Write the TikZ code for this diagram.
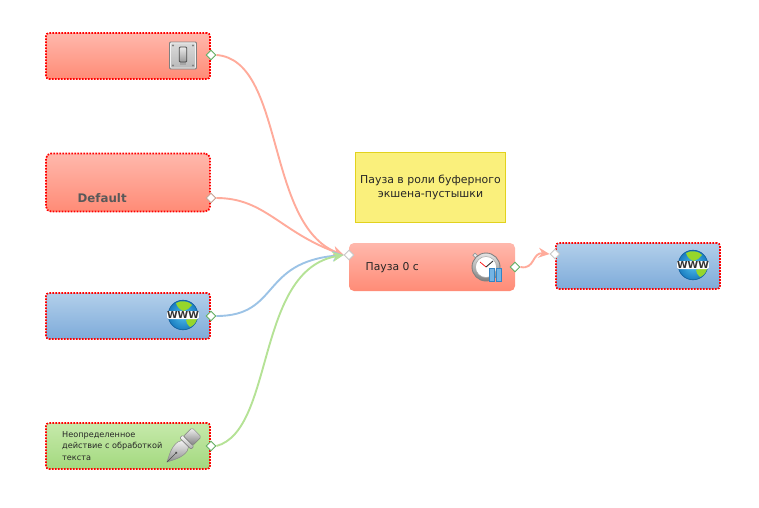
\documentclass[tikz,border=0pt]{standalone}
\usepackage{fontspec}
\setmainfont{DejaVu Sans}
\usetikzlibrary{arrows.meta,shapes.geometric}

\definecolor{redtop}{HTML}{FFB8AC}
\definecolor{redbot}{HTML}{FF8B76}
\definecolor{bluetop}{HTML}{B2CFEA}
\definecolor{bluebot}{HTML}{7EABDA}
\definecolor{greentop}{HTML}{C6E9AB}
\definecolor{greenbot}{HTML}{A3D97E}
\definecolor{redwire}{HTML}{FFAB9B}
\definecolor{bluewire}{HTML}{9CC3E6}
\definecolor{greenwire}{HTML}{B5E296}
\definecolor{notefill}{HTML}{FAF07C}
\definecolor{noteline}{HTML}{E2D21E}
\definecolor{portgreen}{HTML}{62AE62}
\definecolor{portbrown}{HTML}{C8A090}
\definecolor{seablue}{HTML}{1A7CC0}
\definecolor{seadeep}{HTML}{14609E}
\definecolor{seapale}{HTML}{50C0EC}
\definecolor{landgreen}{HTML}{96D62C}
\definecolor{barfill}{HTML}{74B4E4}
\definecolor{barline}{HTML}{3484C4}

\tikzset{
	actionbox/.style={rectangle, inner sep=0pt, rounded corners=3pt, minimum width=164pt, minimum height=46pt},
	dotborder/.style={draw=red, line width=1.7pt, dash pattern=on 1.7pt off 1.3pt},
	redbox/.style={actionbox, top color=redtop, bottom color=redbot},
	bluebox/.style={actionbox, top color=bluetop, bottom color=bluebot},
	greenbox/.style={actionbox, top color=greentop, bottom color=greenbot},
	notebox/.style={rectangle, fill=notefill, draw=noteline, line width=1pt, minimum width=150pt, minimum height=70pt, inner sep=0pt, align=center, font=\fontsize{10.9}{14}\selectfont, text=black!85},
	port/.style={diamond, fill=white, line width=0.9pt, minimum size=10pt, inner sep=0pt},
	greenport/.style={port, draw=portgreen},
	grayport/.style={port, draw=black!22},
	brownport/.style={port, draw=portbrown},
	wire/.style={line width=1.9pt, -{Stealth[length=11pt,width=10pt]}},
	boxtext/.style={anchor=west, inner sep=0pt, text=black!85},
	switchicon/.pic={
		\draw[black!50, rounded corners=1pt, top color=black!14, bottom color=black!28, line width=0.8pt] (-13.5,-13.5) rectangle (13.5,13.5);
		\draw[black!5, line width=0.7pt, rounded corners=1pt] (-12.5,-12.5) rectangle (12.5,12.5);
		\fill[black!50] (-10,-10) circle (1.1);
		\fill[black!50] (10,-10) circle (1.1);
		\fill[black!50] (-10,10) circle (1.1);
		\fill[black!50] (10,10) circle (1.1);
		\fill[black!35] (-3.2,6) rectangle (3.2,9.5);
		\draw[black!70, line width=0.8pt, rounded corners=1pt, top color=black!8, bottom color=black!40] (-3.8,-8.5) rectangle (3.8,6.5);
	},
	globeicon/.pic={
		\shade[inner color=seapale, outer color=seablue] (0,0) circle (15);
		\draw[seadeep, line width=0.6pt] (0,0) circle (14.8);
		\fill[landgreen] (-7,-12) .. controls (-2,-15) and (6,-14) .. (9,-10) .. controls (7,-7) and (4,-5) .. (1,-4) .. controls (-3,-5) and (-6,-8) .. (-7,-12);
		\fill[landgreen] (3,5) .. controls (6,3) and (12,3) .. (14,4) .. controls (13,8) and (10,11) .. (7,12) .. controls (5,10) and (3,8) .. (3,5);
		\node[fill=white, rounded corners=1.5pt, inner sep=0pt, minimum width=30pt, minimum height=8pt, font=\bfseries\fontsize{9.6}{9}\selectfont, text=black!80] (wwwband) at (0,0){WWW};
	},
	penicon/.pic={
		\begin{scope}[rotate=45]
			\draw[black!45, line width=0.5pt, top color=black!5, bottom color=black!45] (0,0) .. controls (6,-3) and (14,-8) .. (22,-6.5) -- (26,-4.5) -- (26,4.5) -- (22,6.5) .. controls (14,8) and (6,3) .. (0,0) -- cycle;
			\draw[black!70, line width=0.5pt] (0,0) -- (13,0);
			\fill[black!70] (13,0) circle (1.2);
			\draw[black!50, line width=0.5pt, top color=white, bottom color=black!35, rounded corners=1pt] (26,-8) rectangle (30,8);
			\draw[black!50, line width=0.5pt, top color=black!5, bottom color=black!50, rounded corners=1.5pt] (30,-6.5) rectangle (42,6.5);
		\end{scope}
	},
	watchicon/.pic={
		\draw[black!40, line width=0.7pt, fill=black!8, rotate around={-45:(-11,-11)}] (-13,-13) rectangle (-9,-10);
		\draw[black!50, line width=0.9pt, top color=black!10, bottom color=black!50] (0,0) circle (14);
		\draw[black!35, line width=0.5pt, fill=white] (0,0) circle (10.5);
		\draw[red, line width=0.7pt] (0,0) -- (-6,-5);
		\draw[black!80, line width=0.9pt] (0,0) -- (7,-6);
		\draw[barline, line width=0.8pt, fill=barfill] (3.5,1) rectangle (8.5,14);
		\draw[barline, line width=0.8pt, fill=barfill] (10,1) rectangle (15,14);
	}
}

\begin{document}
\begin{tikzpicture}[x=1pt, y=-1pt]

	\useasboundingbox (0,0) rectangle (759,507);

	\node[redbox, dotborder](switchbox) at (128,56){};
	\node[redbox, dotborder, minimum height=58pt, rounded corners=5pt](defaultbox) at (128,182.5){};
	\node[bluebox, dotborder](wwwbox) at (128,316){};
	\node[greenbox, dotborder](textbox) at (128,446){};
	\node[redbox, minimum width=166pt, minimum height=48pt, rounded corners=5pt](pausebox) at (432,267){};
	\node[bluebox, dotborder](outbox) at (638,266){};
	\node[notebox](notebox) at (430.5,187.5){Пауза в роли буферного\\экшена-пустышки};

	\node[boxtext, font=\bfseries\fontsize{11.8}{14}\selectfont, text=black!65](defaulttext) at (77.5,198){Default};
	\node[boxtext, font=\fontsize{10.8}{12}\selectfont](pausetext) at (365.5,268){Пауза 0 с};
	\node[boxtext, align=left, font=\fontsize{8.15}{11.5}\selectfont](actiontext) at (62,446){Неопределенное\\действие с обработкой\\текста};

	\pic (switchpic) at (183,55.5) {switchicon};
	\pic (globeone) at (183,315) {globeicon};
	\pic (globetwo) at (693,265) {globeicon};
	\pic (penpic) at (167,462) {penicon};
	\pic (watchpic) at (486,267) {watchicon};

	\node[greenport](switchport) at (211,55){};
	\node[brownport](defaultport) at (211,198){};
	\node[greenport](wwwport) at (211,316){};
	\node[greenport](textport) at (211,446){};
	\node[grayport](pausein) at (349,255){};
	\node[greenport](pauseout) at (515,267){};
	\node[grayport](outin) at (555,254){};

	\draw [wire, color=redwire] (switchport.east) .. controls (285,60) and (265,225) .. (pausein.west);
	\draw [wire, color=redwire] (defaultport.east) .. controls (265,198) and (280,232) .. (pausein.west);
	\draw [wire, color=bluewire] (wwwport.east) .. controls (280,316) and (260,262) .. (pausein.west);
	\draw [wire, color=greenwire] (textport.east) .. controls (275,430) and (255,270) .. (pausein.west);
	\draw [wire, color=redwire] (pauseout.east) .. controls (535,270) and (532,252) .. (outin.west);

\end{tikzpicture}
\end{document}
